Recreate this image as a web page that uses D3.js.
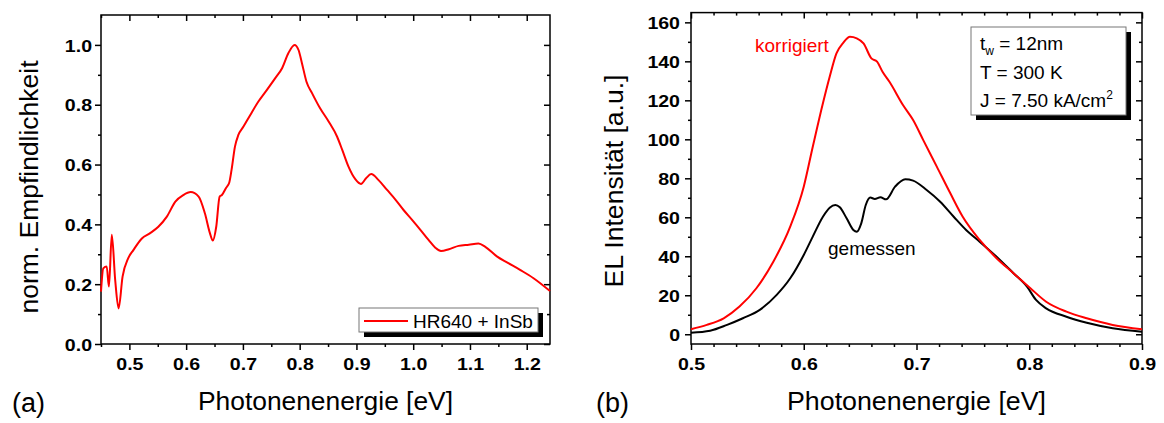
<!DOCTYPE html>
<html><head><meta charset="utf-8">
<script src="https://cdn.jsdelivr.net/npm/d3@7"></script>
<style>body{margin:0;background:#fff}svg{display:block}text{font-family:"Liberation Sans",Arial,sans-serif}</style>
</head><body><svg id="c" width="1164" height="423"></svg>
<script>
// ---- Panel (a) data ----
const respE = [0.450,0.454,0.460,0.464,0.469,0.475,0.481,0.488,0.498,0.507,0.522,0.536,0.551,0.566,0.581,0.595,0.608,0.622,0.633,0.642,0.647,0.653,0.659,0.663,0.670,0.676,0.680,0.686,0.692,0.701,0.713,0.727,0.742,0.757,0.769,0.780,0.791,0.798,0.804,0.812,0.822,0.836,0.851,0.866,0.875,0.886,0.898,0.908,0.917,0.926,0.939,0.954,0.969,0.983,0.998,1.013,1.027,1.039,1.049,1.063,1.080,1.098,1.115,1.127,1.148,1.166,1.189,1.212,1.241];
const respV = [0.175,0.253,0.259,0.192,0.365,0.214,0.119,0.225,0.287,0.314,0.353,0.370,0.392,0.426,0.476,0.498,0.508,0.493,0.437,0.370,0.346,0.392,0.493,0.498,0.521,0.540,0.582,0.660,0.699,0.727,0.766,0.810,0.849,0.889,0.922,0.972,1.000,0.983,0.939,0.877,0.838,0.788,0.744,0.693,0.649,0.593,0.551,0.535,0.554,0.568,0.548,0.515,0.482,0.448,0.415,0.381,0.348,0.322,0.311,0.317,0.328,0.332,0.336,0.325,0.292,0.272,0.247,0.220,0.177];
const aXTicks = [0.5,0.6,0.7,0.8,0.9,1.0,1.1,1.2];
const aYTicks = [0.0,0.2,0.4,0.6,0.8,1.0];
const aLegend = "HR640 + InSb";

// ---- Panel (b) data ----
const korrE = [0.500,0.514,0.529,0.543,0.558,0.573,0.588,0.600,0.608,0.617,0.623,0.629,0.635,0.641,0.647,0.653,0.660,0.665,0.670,0.676,0.688,0.697,0.706,0.718,0.730,0.741,0.756,0.771,0.786,0.801,0.815,0.833,0.851,0.874,0.900];
const korrV = [2.6,4.8,8.2,14.2,23.6,37.2,55.2,75.7,96.2,118.5,132.1,144.1,149.5,152.6,151.8,149.2,141.5,139.8,134.5,129.5,117.6,109.9,99.6,86.0,72.3,60.3,48.4,39.0,31.3,23.6,16.7,11.6,8.2,4.8,2.6];
const gemE = [0.500,0.517,0.532,0.546,0.561,0.576,0.588,0.600,0.608,0.617,0.623,0.628,0.632,0.638,0.644,0.647,0.651,0.655,0.659,0.663,0.668,0.673,0.681,0.690,0.697,0.709,0.721,0.733,0.744,0.756,0.771,0.786,0.798,0.806,0.815,0.833,0.851,0.874,0.900];
const gemV = [0.8,1.8,4.8,8.2,12.5,20.2,28.7,40.7,50.1,60.3,64.9,66.3,65.1,59.5,53.5,52.6,56.9,66.3,70.1,69.4,70.3,69.2,75.7,79.5,78.8,74.0,68.0,60.3,53.5,47.5,39.8,31.3,24.4,17.6,13.3,9.0,5.9,3.1,1.3];
const bXTicks = [0.5,0.6,0.7,0.8,0.9];
const bYTicks = [0,20,40,60,80,100,120,140,160];

const svg = d3.select("#c");

function stretch(sel, k){
  sel.each(function(){
    const w = this.getComputedTextLength();
    d3.select(this).attr("textLength", w*k).attr("lengthAdjust","spacingAndGlyphs");
  });
}
function fitLen(sel, w){ sel.attr("textLength", w).attr("lengthAdjust","spacingAndGlyphs"); }

function frame(g, x, y, xt, xminor, yt, yminor, xfmt, yfmt, ylabX){
  const [x0,x1] = x.range(), [y0,y1] = y.range();
  const add = (ax, tr) => {
    const a = g.append("g").attr("transform", tr).call(ax);
    a.select(".domain").remove();
    a.selectAll("line").attr("stroke","#000").attr("stroke-width",1.5);
    return a;
  };
  const b = add(d3.axisBottom(x).tickValues(xt).tickSize(6).tickFormat(xfmt), `translate(0,${y0})`);
  b.selectAll("text").attr("dy","0").attr("y",26).attr("font-size",17).attr("font-weight","bold").attr("fill","#000");
  b.selectAll("text").attr("font-family","Liberation Sans").call(stretch,1.15);
  add(d3.axisBottom(x).tickValues(xminor).tickSize(3).tickFormat(""), `translate(0,${y0})`);
  add(d3.axisBottom(x).tickValues(xt).tickSize(6).tickFormat(""), `translate(0,${y1})`);
  add(d3.axisBottom(x).tickValues(xminor).tickSize(3).tickFormat(""), `translate(0,${y1})`);
  const l = add(d3.axisLeft(y).tickValues(yt).tickSize(6).tickFormat(yfmt), `translate(${x0},0)`);
  l.selectAll("text").attr("x",ylabX).attr("dy","0.36em").attr("font-size",17).attr("font-weight","bold").attr("fill","#000");
  l.selectAll("text").call(stretch,1.15);
  add(d3.axisLeft(y).tickValues(yminor).tickSize(3).tickFormat(""), `translate(${x0},0)`);
  add(d3.axisLeft(y).tickValues(yt).tickSize(6).tickFormat(""), `translate(${x1},0)`);
  add(d3.axisLeft(y).tickValues(yminor).tickSize(3).tickFormat(""), `translate(${x1},0)`);
  g.append("rect").attr("x",x0).attr("y",y1).attr("width",x1-x0).attr("height",y0-y1)
    .attr("fill","none").attr("stroke","#000").attr("stroke-width",1.5);
}

// ---- Panel (a) ----
{
  const x = d3.scaleLinear().domain([0.45,1.241]).range([101,550]);
  const y = d3.scaleLinear().domain([0,1.1]).range([344,15]);
  const g = svg.append("g");
  const xminor = d3.range(0.45,1.241,0.05).map(v=>+v.toFixed(2)).filter(v=>!aXTicks.includes(v));
  const yminor = [0.1,0.3,0.5,0.7,0.9];
  frame(g, x, y, aXTicks, xminor, aYTicks, yminor, d3.format(".1f"), d3.format(".1f"), -9);
  const line = d3.line().x((d,i)=>x(respE[i])).y((d,i)=>y(respV[i])).curve(d3.curveMonotoneX);
  g.append("path").datum(respV).attr("d",line).attr("fill","none").attr("stroke","#ff0000").attr("stroke-width",2);
  // legend
  g.append("rect").attr("x",364).attr("y",313).attr("width",179).attr("height",24).attr("fill","#000");
  g.append("rect").attr("x",359).attr("y",308).attr("width",179).attr("height",24).attr("fill","#fff").attr("stroke","#777").attr("stroke-width",1);
  g.append("line").attr("x1",364).attr("x2",408).attr("y1",321).attr("y2",321).attr("stroke","#ff0000").attr("stroke-width",2);
  g.append("text").attr("x",413).attr("y",328).attr("font-size",19).text(aLegend);
  g.append("text").attr("transform","translate(38,187) rotate(-90)").attr("text-anchor","middle").attr("font-size",25).text("norm. Empfindlichkeit").call(fitLen,253);
  g.append("text").attr("x",325.5).attr("y",410).attr("text-anchor","middle").attr("font-size",25).text("Photonenenergie [eV]").call(fitLen,255);
  g.append("text").attr("x",12).attr("y",412).attr("font-family","Open Sans").attr("font-size",27).text("(a)");
}

// ---- Panel (b) ----
{
  const x = d3.scaleLinear().domain([0.5,0.9]).range([691,1142]);
  const y = d3.scaleLinear().domain([-5,165]).range([344,12.6]);
  const g = svg.append("g");
  const xminor = d3.range(0.52,0.9,0.02).map(v=>+v.toFixed(2)).filter(v=>!bXTicks.includes(v));
  const yminor = d3.range(10,165,20);
  frame(g, x, y, bXTicks, xminor, bYTicks, yminor, d3.format(".1f"), d3.format("d"), -11);
  const line = (E,V) => d3.line().x((d,i)=>x(E[i])).y((d,i)=>y(V[i])).curve(d3.curveMonotoneX);
  g.append("path").datum(gemV).attr("d",line(gemE,gemV)).attr("fill","none").attr("stroke","#000").attr("stroke-width",2);
  g.append("path").datum(korrV).attr("d",line(korrE,korrV)).attr("fill","none").attr("stroke","#ff0000").attr("stroke-width",2);
  g.append("text").attr("x",755).attr("y",52).attr("font-size",19).attr("fill","#ff0000").text("korrigiert");
  g.append("text").attr("x",828).attr("y",255).attr("font-size",19).attr("fill","#000").text("gemessen");
  // inset
  g.append("rect").attr("x",976).attr("y",32).attr("width",155).attr("height",88).attr("fill","#000");
  g.append("rect").attr("x",971).attr("y",27).attr("width",155).attr("height",88).attr("fill","#fff").attr("stroke","#777").attr("stroke-width",1);
  const t1 = g.append("text").attr("x",980).attr("y",50).attr("font-size",19);
  t1.append("tspan").text("t");
  t1.append("tspan").attr("font-size",12).attr("dy",5).text("w");
  t1.append("tspan").attr("dy",-5).text(" = 12nm");
  g.append("text").attr("x",980).attr("y",79).attr("font-size",19).text("T = 300 K");
  const t3 = g.append("text").attr("x",980).attr("y",107).attr("font-size",19);
  t3.append("tspan").text("J = 7.50 kA/cm");
  t3.append("tspan").attr("font-size",12).attr("dy",-8).text("2");
  g.append("text").attr("transform","translate(623,181) rotate(-90)").attr("text-anchor","middle").attr("font-size",25).text("EL Intensität [a.u.]").call(fitLen,213);
  g.append("text").attr("x",916.5).attr("y",410).attr("text-anchor","middle").attr("font-size",25).text("Photonenenergie [eV]").call(fitLen,259);
  g.append("text").attr("x",596).attr("y",412).attr("font-family","Open Sans").attr("font-size",27).text("(b)");
}
</script></body></html>
